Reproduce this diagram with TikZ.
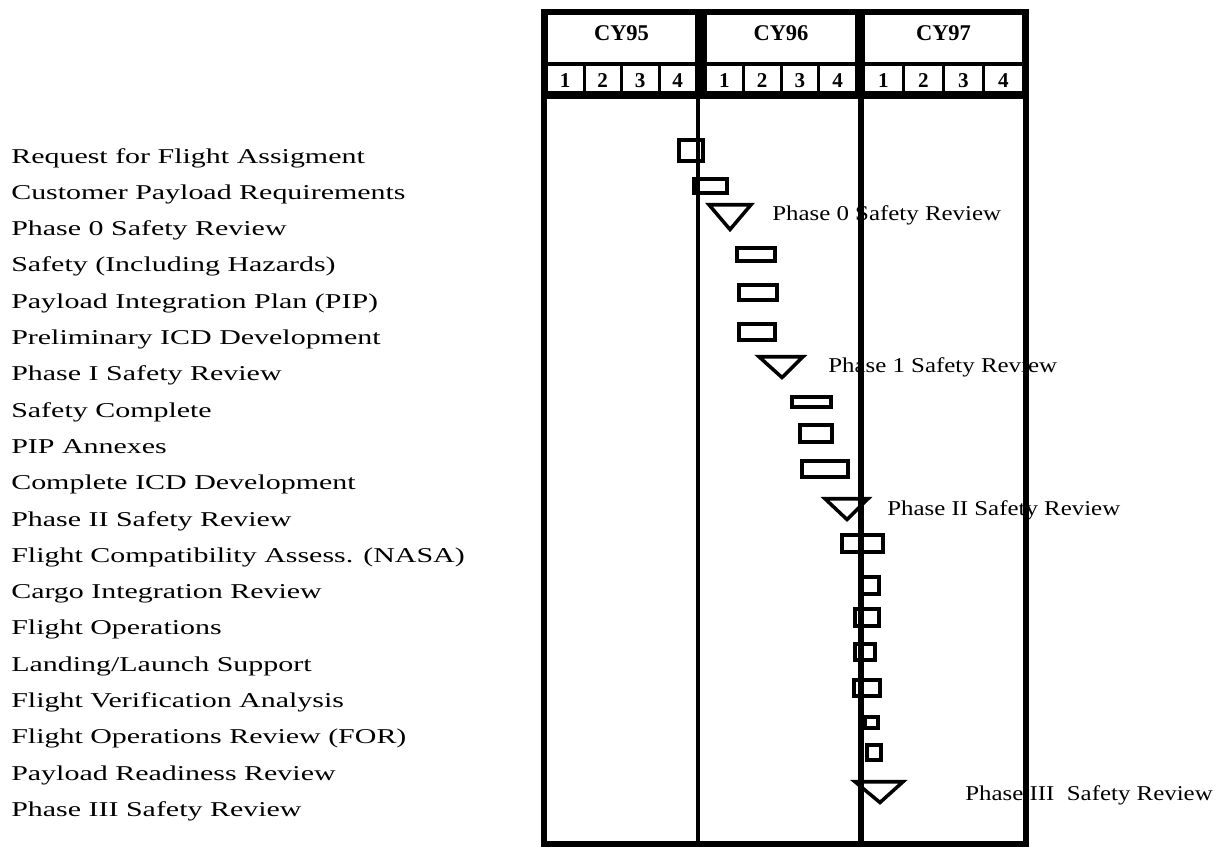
\documentclass[tikz,border=0pt]{standalone}
\usepackage{fontspec}
\setmainfont{Liberation Serif}
\newfontfamily\taskfont[FakeStretch=1.42]{Liberation Serif}
\newfontfamily\milefont[FakeStretch=1.18]{Liberation Serif}
\begin{document}
\begin{tikzpicture}[x=0.025cm, y=-0.025cm,
  task/.style={anchor=base west, inner sep=0pt, font=\taskfont\fontsize{15}{18}\selectfont},
  mile/.style={anchor=base west, inner sep=0pt, font=\milefont\fontsize{15}{18}\selectfont},
  yearlbl/.style={anchor=base, inner sep=0pt, font=\bfseries\fontsize{16}{19}\selectfont},
  qtrlbl/.style={anchor=base, inner sep=0pt, font=\bfseries\fontsize{15}{18}\selectfont},
  bar/.style={draw, line width=2.5pt},
  frameline/.style={line width=4.25pt},
  divline/.style={line width=2.9pt}]
\useasboundingbox (0,0) rectangle (1232,848);
% header
\fill (541,9) rectangle (1029,99);
\fill[white] (548,15) rectangle (695,62) (621.5,40) node[yearlbl, text = black] (cy95) {CY95};
\fill[white] (707,15) rectangle (855,62) (781,40) node[yearlbl, text = black] (cy96) {CY96};
\fill[white] (865,15) rectangle (1022,62) (943.5,40) node[yearlbl, text = black] (cy97) {CY97};
\fill[white] (548,66) rectangle (582.5,91) (565.25,87) node[qtrlbl, text = black] (q51) {1};
\fill[white] (585.5,66) rectangle (620,91) (602.75,87) node[qtrlbl, text = black] (q52) {2};
\fill[white] (623,66) rectangle (657.5,91) (640.25,87) node[qtrlbl, text = black] (q53) {3};
\fill[white] (660.5,66) rectangle (695,91) (677.75,87) node[qtrlbl, text = black] (q54) {4};
\fill[white] (707,66) rectangle (741.75,91) (724.4,87) node[qtrlbl, text = black] (q61) {1};
\fill[white] (744.75,66) rectangle (779.5,91) (762.1,87) node[qtrlbl, text = black] (q62) {2};
\fill[white] (782.5,66) rectangle (817.25,91) (799.9,87) node[qtrlbl, text = black] (q63) {3};
\fill[white] (820.25,66) rectangle (855,91) (837.6,87) node[qtrlbl, text = black] (q64) {4};
\fill[white] (865,66) rectangle (902,91) (883.5,87) node[qtrlbl, text = black] (q71) {1};
\fill[white] (905,66) rectangle (942,91) (923.5,87) node[qtrlbl, text = black] (q72) {2};
\fill[white] (945,66) rectangle (982,91) (963.5,87) node[qtrlbl, text = black] (q73) {3};
\fill[white] (985,66) rectangle (1022,91) (1003.5,87) node[qtrlbl, text = black] (q74) {4};
% task list
\node[task] (t01) at (11,163.0) {Request for Flight Assigment};
\node[task] (t02) at (11,199.3) {Customer Payload Requirements};
\node[task] (t03) at (11,235.6) {Phase 0 Safety Review};
\node[task] (t04) at (11,271.9) {Safety (Including Hazards)};
\node[task] (t05) at (11,308.2) {Payload Integration Plan (PIP)};
\node[task] (t06) at (11,344.5) {Preliminary ICD Development};
\node[task] (t07) at (11,380.8) {Phase I Safety Review};
\node[task] (t08) at (11,417.1) {Safety Complete};
\node[task] (t09) at (11,453.4) {PIP Annexes};
\node[task] (t10) at (11,489.7) {Complete ICD Development};
\node[task] (t11) at (11,526.0) {Phase II Safety Review};
\node[task] (t12) at (11,562.3) {Flight Compatibility Assess. (NASA)};
\node[task] (t13) at (11,598.6) {Cargo Integration Review};
\node[task] (t14) at (11,634.9) {Flight Operations};
\node[task] (t15) at (11,671.2) {Landing/Launch Support};
\node[task] (t16) at (11,707.5) {Flight Verification Analysis};
\node[task] (t17) at (11,743.8) {Flight Operations Review (FOR)};
\node[task] (t18) at (11,780.1) {Payload Readiness Review};
\node[task] (t19) at (11,816.4) {Phase III Safety Review};
% milestone labels
\node[mile] (m0) at (772,220) {Phase 0 Safety Review};
\node[mile] (m1) at (828,372) {Phase 1 Safety Review};
\node[mile] (m2) at (887,515) {Phase II Safety Review};
\node[mile] (m3) at (965,800) {Phase III\ \ Safety Review};
% bars and milestones
\draw[bar] (678.75,139.75) rectangle (703.25,161.25);
\draw[bar] (693.75,178.75) rectangle (727.25,193.25);
\draw[bar] (709,204.75) -- (751,204.75) -- (730,229.5) -- cycle;
\draw[bar] (736.75,247.75) rectangle (775.25,261.25);
\draw[bar] (738.75,284.75) rectangle (777.25,300.25);
\draw[bar] (738.75,323.75) rectangle (775.25,340.25);
\draw[bar] (759,356.75) -- (803,356.75) -- (782,377.5) -- cycle;
\draw[bar] (791.75,396.75) rectangle (831.25,407.25);
\draw[bar] (799.75,424.75) rectangle (832.25,442.25);
\draw[bar] (801.75,460.75) rectangle (848.25,477.25);
\draw[bar] (825,498.75) -- (868,498.75) -- (847,519.5) -- cycle;
\draw[bar] (841.75,534.75) rectangle (883.25,552.25);
\draw[bar] (859.75,576.75) rectangle (879.25,594.25);
\draw[bar] (854.75,608.75) rectangle (879.25,626.25);
\draw[bar] (854.75,643.75) rectangle (875.25,660.25);
\draw[bar] (853.75,679.75) rectangle (880.25,696.25);
\draw[bar] (864.75,716.75) rectangle (878.25,728.25);
\draw[bar] (866.75,744.75) rectangle (881.25,760.25);
\draw[bar] (855,781.75) -- (903,781.75) -- (880,802.5) -- cycle;
% body frame
\draw[frameline] (544,96) -- (544,844) -- (1026,844) -- (1026,96);
\draw[divline] (698,96) -- (698,844);
\draw[frameline] (861,96) -- (861,844);
\end{tikzpicture}
\end{document}
